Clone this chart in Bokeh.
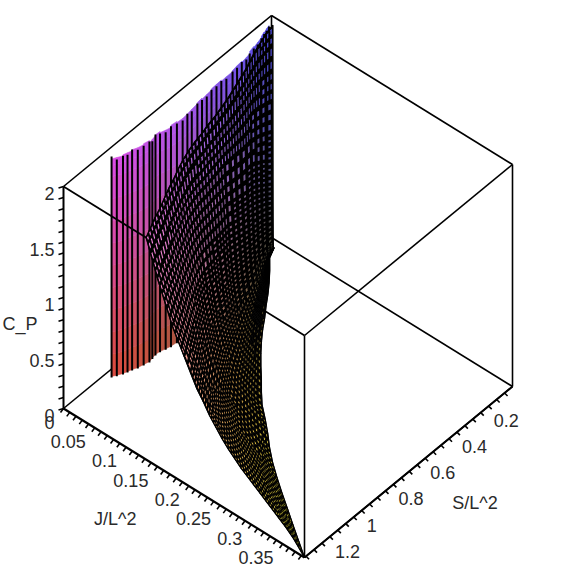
from bokeh.plotting import figure
from bokeh.models import Range1d
from bokeh.core.properties import value
from bokeh.embed import file_html
from bokeh.resources import INLINE

J_TICK_LABELS = ["0", "0.05", "0.1", "0.15", "0.2", "0.25", "0.3", "0.35"]
J_TICK_VALUES = [0, 0.05, 0.1, 0.15, 0.2, 0.25, 0.3, 0.35]
S_TICK_LABELS = ["0.2", "0.4", "0.6", "0.8", "1", "1.2"]
S_TICK_VALUES = [0.2, 0.4, 0.6, 0.8, 1.0, 1.2]
C_TICK_LABELS = ["0", "0.5", "1", "1.5", "2"]
C_TICK_VALUES = [0, 0.5, 1.0, 1.5, 2.0]
J_MAX, S_MAX, C_MAX = 0.385, 1.31, 2.0

# Wall of the surface close to J = 0
wall_S = [1.04,1.02,.996,.975,.954,.93,.901,.872,.849,.825,.799,.773,.747,.714,.681,.648,.616,.576,.544,.511,.478,.445,.413,.38,.341,.308,.275,.242,.216,.183,.151,.118,.092,.066,.046]
wall_J = [.0083,.0116,.0154,.0173,.0193,.0223,.0243,.0262,.025,.0239,.0246,.027,.0289,.03,.0308,.03,.0289,.0277,.027,.0262,.0254,.025,.0246,.0243,.0243,.0231,.0223,.0212,.02,.0181,.0162,.0139,.0116,.0089,.0077]
wall_top = [2.0,1.96,1.98,1.97,2.0,1.98,1.99,2.0,1.97,2.0,1.98,1.97,2.0,1.99,1.98,2.0,1.98,2.0,1.99,1.98,2.0,1.99,2.0,1.98,2.0,1.99,2.0,1.98,2.0,2.0,1.99,2.0,2.0,1.99,2.0]
wall_levels = [0,.2,.4,.6,.8,1.0,1.2,1.4,1.6,1.8,1.9]

# Main sheet: one row per S, running from J_low (C=2) to J_high (C=0)
S_rows = [1.31,1.255,1.20,1.144,1.089,1.034,.979,.923,.867,.812,.757,.702,.647,.591,.536,.481,.426,.370,.314,.259,.204,.149,.094,.039]
J_low = [.132,.125,.118,.112,.105,.098,.092,.085,.079,.074,.070,.067,.063,.060,.056,.052,.047,.042,.037,.031,.025,.020,.015,.012]
J_high = [.385,.362,.339,.316,.293,.271,.250,.231,.214,.196,.177,.162,.148,.133,.119,.106,.094,.083,.071,.060,.048,.035,.021,.014]
J_frac = [0,.01,.025,.045,.07,.1,.13,.165,.2,.24,.28,.32,.36,.4,.44,.48,.52,.56,.6,.64,.68,.72,.76,.8,.84,.88,.93,1]
C_P = [
[2.00,1.96,1.89,1.81,1.70,1.59,1.48,1.35,1.25,1.14,1.03,.92,.84,.75,.68,.61,.55,.50,.45,.41,.37,.33,.29,.25,.21,.17,.11,0],
[2.00,1.95,1.88,1.80,1.69,1.57,1.46,1.32,1.22,1.10,.99,.88,.80,.71,.64,.57,.51,.46,.41,.37,.34,.30,.26,.22,.19,.15,.09,0],
[2.00,1.95,1.88,1.79,1.68,1.55,1.44,1.30,1.19,1.07,.96,.85,.76,.68,.60,.53,.48,.43,.38,.34,.31,.27,.24,.20,.17,.13,.08,0],
[2.00,1.95,1.87,1.78,1.67,1.53,1.42,1.28,1.16,1.04,.92,.81,.72,.64,.56,.49,.44,.39,.35,.31,.28,.24,.21,.18,.15,.11,.07,0],
[2.00,1.95,1.87,1.78,1.66,1.52,1.40,1.26,1.13,1.01,.89,.78,.68,.60,.53,.46,.41,.36,.32,.28,.25,.22,.19,.16,.13,.10,.06,0],
[2.00,1.94,1.86,1.77,1.64,1.50,1.38,1.23,1.10,.97,.85,.74,.64,.56,.49,.42,.37,.32,.28,.24,.22,.19,.16,.13,.11,.08,.05,0],
[2.00,1.94,1.86,1.76,1.63,1.49,1.36,1.21,1.07,.94,.82,.70,.60,.52,.45,.39,.34,.29,.25,.21,.19,.16,.14,.11,.09,.07,.04,0],
[2.00,1.94,1.86,1.75,1.62,1.47,1.34,1.19,1.04,.91,.78,.66,.56,.48,.41,.35,.30,.25,.21,.18,.16,.13,.11,.09,.07,.05,.03,0],
[2.00,1.94,1.86,1.74,1.61,1.46,1.32,1.17,1.02,.88,.75,.63,.53,.45,.38,.32,.27,.22,.18,.15,.13,.11,.09,.07,.05,.04,.02,0],
[2.00,1.94,1.85,1.73,1.59,1.43,1.29,1.14,.99,.84,.71,.60,.50,.42,.35,.29,.24,.20,.16,.14,.12,.10,.08,.06,.04,.03,.02,0],
[2.00,1.93,1.84,1.71,1.57,1.41,1.26,1.10,.95,.81,.68,.56,.46,.38,.32,.26,.21,.17,.14,.12,.10,.08,.07,.05,.04,.03,.01,0],
[2.00,1.93,1.83,1.70,1.55,1.38,1.23,1.07,.92,.77,.64,.53,.43,.35,.29,.23,.19,.15,.12,.10,.09,.07,.06,.05,.03,.02,.01,0],
[2.00,1.93,1.82,1.69,1.53,1.36,1.20,1.03,.89,.74,.60,.49,.40,.32,.26,.20,.16,.13,.10,.08,.07,.06,.05,.04,.03,.02,.01,0],
[2.00,1.92,1.82,1.67,1.52,1.33,1.17,1.00,.85,.70,.57,.46,.37,.29,.23,.18,.14,.11,.09,.07,.06,.05,.04,.03,.02,.02,.01,0],
[2.00,1.92,1.81,1.66,1.50,1.31,1.15,.97,.82,.67,.54,.43,.34,.26,.20,.15,.12,.09,.07,.06,.05,.04,.035,.03,.02,.015,.01,0],
[2.00,1.91,1.79,1.63,1.46,1.26,1.09,.91,.76,.61,.49,.38,.30,.23,.17,.13,.10,.08,.06,.05,.04,.03,.03,.02,.02,.01,.01,0],
[2.00,1.90,1.77,1.60,1.42,1.21,1.04,.85,.70,.56,.44,.34,.26,.20,.15,.11,.09,.07,.05,.04,.03,.03,.02,.02,.01,.01,.01,0],
[2.00,1.90,1.75,1.57,1.37,1.16,.98,.79,.64,.50,.38,.29,.22,.16,.12,.09,.07,.05,.04,.03,.03,.02,.02,.01,.01,.01,0,0],
[2.00,1.89,1.74,1.54,1.33,1.12,.92,.74,.58,.45,.33,.24,.18,.13,.09,.07,.05,.04,.03,.02,.02,.01,.01,.01,.01,0,0,0],
[2.00,1.88,1.72,1.52,1.29,1.07,.87,.68,.52,.39,.28,.20,.14,.09,.07,.05,.04,.03,.02,.02,.01,.01,.01,.01,0,0,0,0],
[2.00,1.87,1.69,1.47,1.23,1.00,.80,.61,.46,.34,.24,.17,.12,.08,.05,.04,.03,.02,.02,.01,.01,.01,0,0,0,0,0,0],
[2.00,1.86,1.66,1.42,1.17,.93,.72,.54,.40,.28,.19,.13,.09,.06,.04,.03,.02,.01,.01,.01,0,0,0,0,0,0,0,0],
[2.00,1.84,1.62,1.37,1.10,.85,.64,.47,.33,.22,.14,.09,.06,.04,.02,.02,.01,.01,0,0,0,0,0,0,0,0,0,0],
[2.00,1.83,1.59,1.32,1.04,.78,.57,.40,.27,.17,.10,.06,.04,.02,.01,.01,0,0,0,0,0,0,0,0,0,0,0,0],
]

# Box projection (oblique view), in page pixels
ORIGIN = (64.0, 409.0)
AX_J = (241.0, 149.0)
AX_S = (208.0, -171.0)
AX_C = 222.0


def proj(J, S, C):
    j, t, z = J / J_MAX, (S_MAX - S) / S_MAX, C / C_MAX
    return (ORIGIN[0] + AX_J[0] * j + AX_S[0] * t,
            ORIGIN[1] + AX_J[1] * j + AX_S[1] * t - AX_C * z)


def shade(J, S, C):
    r = 0.28 + 0.72 * (S / S_MAX)
    g = 0.28 + 0.72 * (J / J_MAX)
    b = 0.22 + 0.70 * (C / C_MAX)
    return "#%02x%02x%02x" % tuple(int(255 * min(v, 1)) for v in (r, g, b))


def seg(p, a, b, width=1.6, color="black"):
    p.line([a[0], b[0]], [a[1], b[1]], line_width=width, line_color=color)


p = figure(width=567, height=567, x_range=Range1d(1, 568), y_range=Range1d(568, 1),
           output_backend="svg", toolbar_location=None, min_border=0,
           background_fill_color="white", border_fill_color="white", outline_line_color=None)
p.axis.visible = False
p.grid.visible = False

c000, c100, c010, c110 = (proj(0, S_MAX, 0), proj(J_MAX, S_MAX, 0), proj(0, 0, 0), proj(J_MAX, 0, 0))
t000, t100, t010, t110 = (proj(0, S_MAX, C_MAX), proj(J_MAX, S_MAX, C_MAX), proj(0, 0, C_MAX), proj(J_MAX, 0, C_MAX))

# Rear edges
for a, b in [(c000, c010), (c010, c110), (c010, t010), (t000, t010), (t010, t110)]:
    seg(p, a, b)

# Wall stripes
xs, ys, fc = [], [], []
for i in range(len(wall_S) - 1):
    levels = wall_levels + [min(wall_top[i], wall_top[i + 1])]
    for k in range(len(levels) - 1):
        lo, hi = levels[k], levels[k + 1]
        corners = [proj(wall_J[i], wall_S[i], lo), proj(wall_J[i + 1], wall_S[i + 1], lo),
                   proj(wall_J[i + 1], wall_S[i + 1], hi), proj(wall_J[i], wall_S[i], hi)]
        xs.append([q[0] for q in corners])
        ys.append([q[1] for q in corners])
        fc.append(shade(wall_J[i], wall_S[i], (lo + hi) / 2))
p.patches(xs, ys, fill_color=fc, line_color=fc, line_width=0.6)
sx, sy = [], []
for i in range(len(wall_S)):
    a, b = proj(wall_J[i], wall_S[i], 0), proj(wall_J[i], wall_S[i], wall_top[i])
    sx.append([a[0], b[0]])
    sy.append([a[1] + 1, b[1] + 2])
p.multi_line(sx, sy, line_color="black", line_width=2.0)

# Edge that runs across the wall but behind the sheet
seg(p, t000, t100, 1.8)

# Sheet: each cell is black with speckles of its own colour, so that it reads like the fine wire mesh
grid = []
for r, S in enumerate(S_rows):
    row = []
    for c, f in enumerate(J_frac):
        J = J_low[r] + (J_high[r] - J_low[r]) * f
        row.append((J, S, C_P[r][c]))
    grid.append(row)

SPECKLE_PITCH = 5.2
SPECKLE_PITCH_STEEP = 10.0


def at(pts, u, v):
    # position inside a cell from its own four corners
    x = (pts[0][0] * (1 - u) + pts[3][0] * u) * (1 - v) + (pts[1][0] * (1 - u) + pts[2][0] * u) * v
    y = (pts[0][1] * (1 - u) + pts[3][1] * u) * (1 - v) + (pts[1][1] * (1 - u) + pts[2][1] * u) * v
    return x, y


bx, by, sxs, sys, scol = [], [], [], [], []
for r in range(len(grid) - 2, -1, -1):
    for c in range(len(J_frac) - 1):
        quad = [grid[r][c], grid[r + 1][c], grid[r + 1][c + 1], grid[r][c + 1]]
        pts = [proj(*q) for q in quad]
        bx.append([q[0] for q in pts])
        by.append([q[1] for q in pts])
        cmean = sum(q[2] for q in quad) / 4
        col = shade(sum(q[0] for q in quad) / 4, sum(q[1] for q in quad) / 4, cmean)
        du = ((pts[3][0] - pts[0][0]) ** 2 + (pts[3][1] - pts[0][1]) ** 2) ** 0.5
        dv = ((pts[1][0] - pts[0][0]) ** 2 + (pts[1][1] - pts[0][1]) ** 2) ** 0.5
        if min(du, dv) < 2.2:
            continue  # too fine: the lines close up to solid black
        steep = cmean > 1.0
        pitch_u = SPECKLE_PITCH_STEEP if steep else SPECKLE_PITCH
        along = 0.52 if steep else 0.36
        across = 0.36 if steep else 0.36
        nu = max(1, min(5, round(du / pitch_u)))
        nv = max(1, min(5, round(dv / SPECKLE_PITCH)))
        for a in range(nu):
            for b in range(nv):
                cu, cv = (a + 0.5) / nu, (b + 0.5) / nv
                hu, hv = along / 2 / nu, across / 2 / nv
                q = [at(pts, cu - hu, cv - hv), at(pts, cu - hu, cv + hv), at(pts, cu + hu, cv + hv), at(pts, cu + hu, cv - hv)]
                sxs.append([w[0] for w in q])
                sys.append([w[1] for w in q])
                scol.append(col)
p.patches(bx, by, fill_color="black", line_color="black", line_width=0.8)
p.patches(sxs, sys, fill_color=scol, line_color=None)
mx, my = [], []
for c in (0, len(J_frac) - 1):
    pts = [proj(*row[c]) for row in grid]
    mx.append([q[0] for q in pts])
    my.append([q[1] for q in pts])
for row in (grid[0], grid[-1]):
    pts = [proj(*q) for q in row]
    mx.append([q[0] for q in pts])
    my.append([q[1] for q in pts])
p.multi_line(mx, my, line_color="black", line_width=1.2)

# Front edges
for a, b in [(c100, c110), (c110, t110), (t100, t110)]:
    seg(p, a, b)
seg(p, c100, t100, 1.6)
seg(p, c000, c100, 2.2)
seg(p, c000, t000, 2.0)
seg(p, c100, c110, 2.0)

# Tick marks
tx, ty = [], []
for k in range(0, 39):
    a = proj(k * 0.01, S_MAX, 0)
    tx.append([a[0], a[0] - 3])
    ty.append([a[1], a[1] + 4])
for k in range(1, 27):
    a = proj(J_MAX, k * 0.05, 0)
    tx.append([a[0], a[0] + 3])
    ty.append([a[1], a[1] + 3])
for k in range(0, 21):
    a = proj(0, S_MAX, k * 0.1)
    tx.append([a[0], a[0] - 5])
    ty.append([a[1], a[1] + 1.5])
p.multi_line(tx, ty, line_color="black", line_width=1.6)

FONT = value("Liberation Sans")
COL = "#2a2a2a"


def label(x, y, s, align, dx=0, dy=0):
    p.text([x], [y], text=[s], text_font=FONT, text_font_size="18px", text_color=COL, text_align=align,
           text_baseline="middle", x_offset=dx, y_offset=dy)


for v, s in zip(J_TICK_VALUES, J_TICK_LABELS):
    x, y = proj(v, S_MAX, 0)
    label(x, y, s, "right", -9, 13.5)
for v, s in zip(S_TICK_VALUES, S_TICK_LABELS):
    x, y = proj(J_MAX, v, 0)
    label(x, y, s, "left", 13, 8)
for v, s in zip(C_TICK_VALUES, C_TICK_LABELS):
    x, y = proj(0, S_MAX, v)
    label(x, y, s, "right", -9, 7)

x, y = proj(0.115, S_MAX, 0)
label(x, y, "J/L^2", "right", 1, 66)
x, y = proj(J_MAX, 0.43, 0)
label(x, y, "S/L^2", "left", 8, 60)
x, y = proj(0, S_MAX, 0.92)
label(x, y, "C_P", "right", -26, 18)

open("out.html", "w").write(file_html(p, INLINE))
